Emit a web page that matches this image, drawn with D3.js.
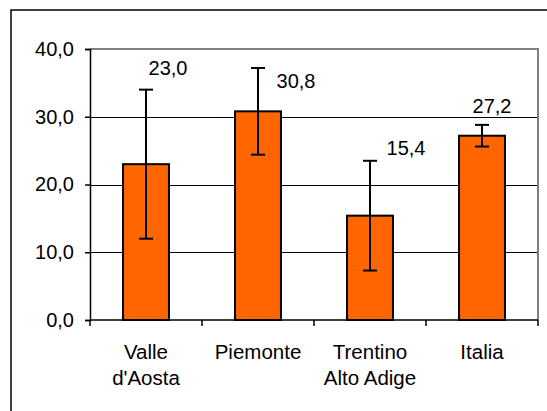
<!DOCTYPE html>
<html><head><meta charset="utf-8">
<script src="https://cdn.jsdelivr.net/npm/d3@7"></script>
<style>body{margin:0;background:#fff}svg{display:block;font-family:"Liberation Sans",Arial,sans-serif}</style>
</head><body><svg id="c" width="547" height="411"></svg>
<script>
const categories = [["Valle","d'Aosta"],["Piemonte"],["Trentino","Alto Adige"],["Italia"]];
const values = [23.0, 30.8, 15.4, 27.2];
const errors = [11.0, 6.4, 8.1, 1.6];
const valueLabels = ["23,0","30,8","15,4","27,2"];
const yTicks = [0,10,20,30,40];
const yTickLabels = ["0,0","10,0","20,0","30,0","40,0"];

const svg = d3.select("#c");
const L = 90, R = 538, T = 49, B = 320;

svg.append("rect").attr("x",11).attr("y",10).attr("width",560).attr("height",430)
  .attr("fill","#fff").attr("stroke","#000").attr("stroke-width",1.5);

const keys = categories.map((c,i)=>i);
const x = d3.scaleBand().domain(keys).range([L,R]).paddingInner(0.59).paddingOuter(0.295);
const y = d3.scaleLinear().domain([0,40]).range([B,T]);

// grid lines
svg.append("g").selectAll("line").data(yTicks.filter(t=>t>0 && t<40)).join("line")
  .attr("x1",L).attr("x2",R).attr("y1",d=>Math.round(y(d))+0.5).attr("y2",d=>Math.round(y(d))+0.5)
  .attr("stroke","#000").attr("stroke-width",1);

// plot border top/right gray
svg.append("path").attr("d",`M${L},${T}H${R}V${B}`).attr("fill","none").attr("stroke","#808080").attr("stroke-width",2);

// y axis
const yAxis = d3.axisLeft(y).tickValues(yTicks).tickSize(5).tickFormat((d,i)=>yTickLabels[i]);
const gy = svg.append("g").attr("transform",`translate(${L},0)`).call(yAxis);
gy.select(".domain").attr("stroke","#000").attr("stroke-width",1.5);
gy.selectAll(".tick line").attr("stroke","#000").attr("stroke-width",1.5);
gy.selectAll(".tick text").attr("font-size",20).attr("font-family","Liberation Sans, Arial, sans-serif").attr("fill","#000").attr("x",-16);

// x axis line and boundary ticks
const step = x.step();
const bounds = d3.range(categories.length+1).map(i=>L + i*step);
svg.append("line").attr("x1",L).attr("x2",R).attr("y1",B).attr("y2",B).attr("stroke","#000").attr("stroke-width",1.5);
svg.append("g").selectAll("line").data(bounds).join("line")
  .attr("x1",d=>d).attr("x2",d=>d).attr("y1",B).attr("y2",B+6).attr("stroke","#000").attr("stroke-width",1.5);

// bars
svg.append("g").selectAll("rect").data(values).join("rect")
  .attr("x",(d,i)=>x(i)).attr("width",x.bandwidth())
  .attr("y",d=>y(d)).attr("height",d=>y(0)-y(d))
  .attr("fill","#FF6600").attr("stroke","#000").attr("stroke-width",2);

// error bars
const eg = svg.append("g").attr("stroke","#000").attr("stroke-width",2);
values.forEach((v,i)=>{
  const cx = x(i)+x.bandwidth()/2;
  const hi = y(v+errors[i]), lo = y(v-errors[i]);
  eg.append("line").attr("x1",cx).attr("x2",cx).attr("y1",hi).attr("y2",lo);
  eg.append("line").attr("x1",cx-7).attr("x2",cx+7).attr("y1",hi).attr("y2",hi);
  eg.append("line").attr("x1",cx-7).attr("x2",cx+7).attr("y1",lo).attr("y2",lo);
});

// value labels (manually placed as in the original)
const labelDx = [22, 38, 36, 10];
const labelYVal = [36.2, 34.3, 24.3, 30.6];
svg.append("g").selectAll("text").data(valueLabels).join("text")
  .attr("x",(d,i)=>x(i)+x.bandwidth()/2+labelDx[i]).attr("y",(d,i)=>y(labelYVal[i]))
  .attr("text-anchor","middle").attr("font-size",20).attr("fill","#000").text(d=>d);

// category labels
const cg = svg.append("g");
categories.forEach((lines,i)=>{
  const t = cg.append("text").attr("text-anchor","middle").attr("font-size",20.5).attr("fill","#000");
  lines.forEach((ln,j)=>{
    t.append("tspan").attr("x",x(i)+x.bandwidth()/2).attr("y",359+j*26).text(ln);
  });
});
</script></body></html>
